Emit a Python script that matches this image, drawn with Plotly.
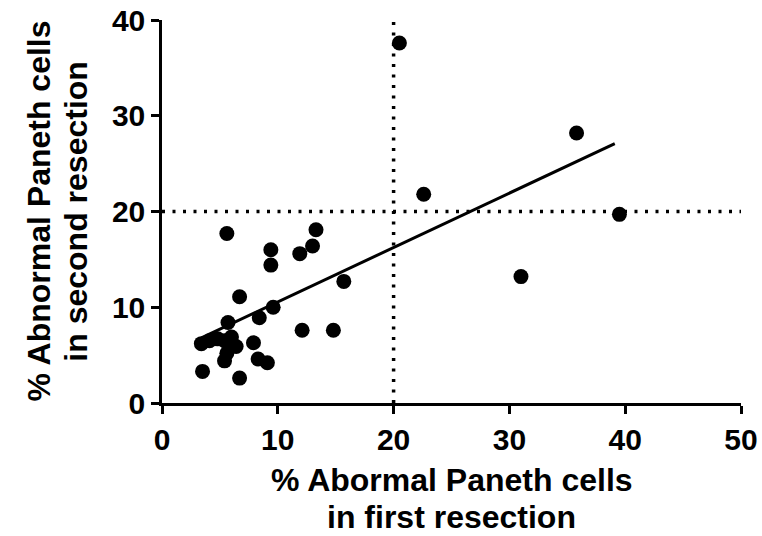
import plotly.graph_objects as go

# Data
first_resection = [3.4, 4.1, 4.8, 5.4, 6.0, 6.4, 5.6, 5.4, 7.9, 8.3, 9.1, 3.5, 6.7,
                   5.7, 8.4, 9.6, 6.7, 5.6, 9.4, 9.4, 11.9, 13.0, 13.3, 15.7, 12.1,
                   14.8, 20.5, 22.6, 35.8, 39.5, 31.0]
second_resection = [6.2, 6.5, 6.7, 6.5, 6.9, 5.9, 5.2, 4.4, 6.3, 4.6, 4.2, 3.3, 2.6,
                    8.4, 8.9, 10.0, 11.1, 17.7, 16.0, 14.4, 15.6, 16.4, 18.1, 12.7, 7.6,
                    7.6, 37.6, 21.8, 28.2, 19.7, 13.2]
fit_x = [3.4, 39.1]
fit_y = [6.8, 27.1]
threshold_x = 20
threshold_y = 20
x_ticks = [0, 10, 20, 30, 40, 50]
y_ticks = [0, 10, 20, 30, 40]
x_title_lines = ["% Abormal Paneth cells", "in first resection"]
y_title_lines = ["% Abnormal Paneth cells", "in second resection"]

font_family = "Liberation Sans, Arial, Helvetica, sans-serif"
tick_font = dict(family=font_family, size=30, color="black", weight="bold")
title_font = dict(family=font_family, size=32, color="black", weight="bold")

fig = go.Figure()
fig.add_trace(go.Scatter(x=first_resection, y=second_resection, mode="markers",
                         marker=dict(color="black", size=15, line=dict(width=0)),
                         cliponaxis=False, showlegend=False, hoverinfo="skip"))
fig.add_trace(go.Scatter(x=fit_x, y=fit_y, mode="lines",
                         line=dict(color="black", width=3), showlegend=False,
                         hoverinfo="skip"))

dot = "3px,7.5px"
fig.add_shape(type="line", xref="x", yref="y", x0=threshold_x, x1=threshold_x, y0=0, y1=40,
              line=dict(color="black", width=3.5, dash=dot), layer="below")
fig.add_shape(type="line", xref="x", yref="y", x0=0, x1=50, y0=threshold_y, y1=threshold_y,
              line=dict(color="black", width=3.5, dash=dot), layer="below")

axis_common = dict(showgrid=False, zeroline=False, showline=True, linecolor="black",
                   linewidth=2.5, ticks="outside", ticklen=8, tickwidth=2.5,
                   tickcolor="black", tickfont=tick_font, automargin=False,
                   ticklabeloverflow="allow")

fig.update_xaxes(range=[0, 50], tickvals=x_ticks, ticktext=[str(v) for v in x_ticks],
                 **axis_common)
fig.update_yaxes(range=[0, 40], tickvals=y_ticks, ticktext=[str(v) for v in y_ticks],
                 **axis_common)

for text, ypos in zip(x_title_lines, [-0.201, -0.298]):
    fig.add_annotation(text=text, xref="paper", yref="paper", x=0.5, y=ypos,
                       xanchor="center", yanchor="middle", showarrow=False, font=title_font)
for text, xpos in zip(y_title_lines, [-0.214, -0.150]):
    fig.add_annotation(text=text, xref="paper", yref="paper", x=xpos, y=0.5,
                       xanchor="center", yanchor="middle", showarrow=False, font=title_font,
                       textangle=-90)

fig.update_layout(width=762, height=536, margin=dict(l=162, r=21, t=20, b=133),
                  plot_bgcolor="white", paper_bgcolor="white")

fig.write_html("out.html",
               config={"displayModeBar": False},
               post_script="document.body.style.margin='0';"
                           "document.body.style.overflow='hidden';")
